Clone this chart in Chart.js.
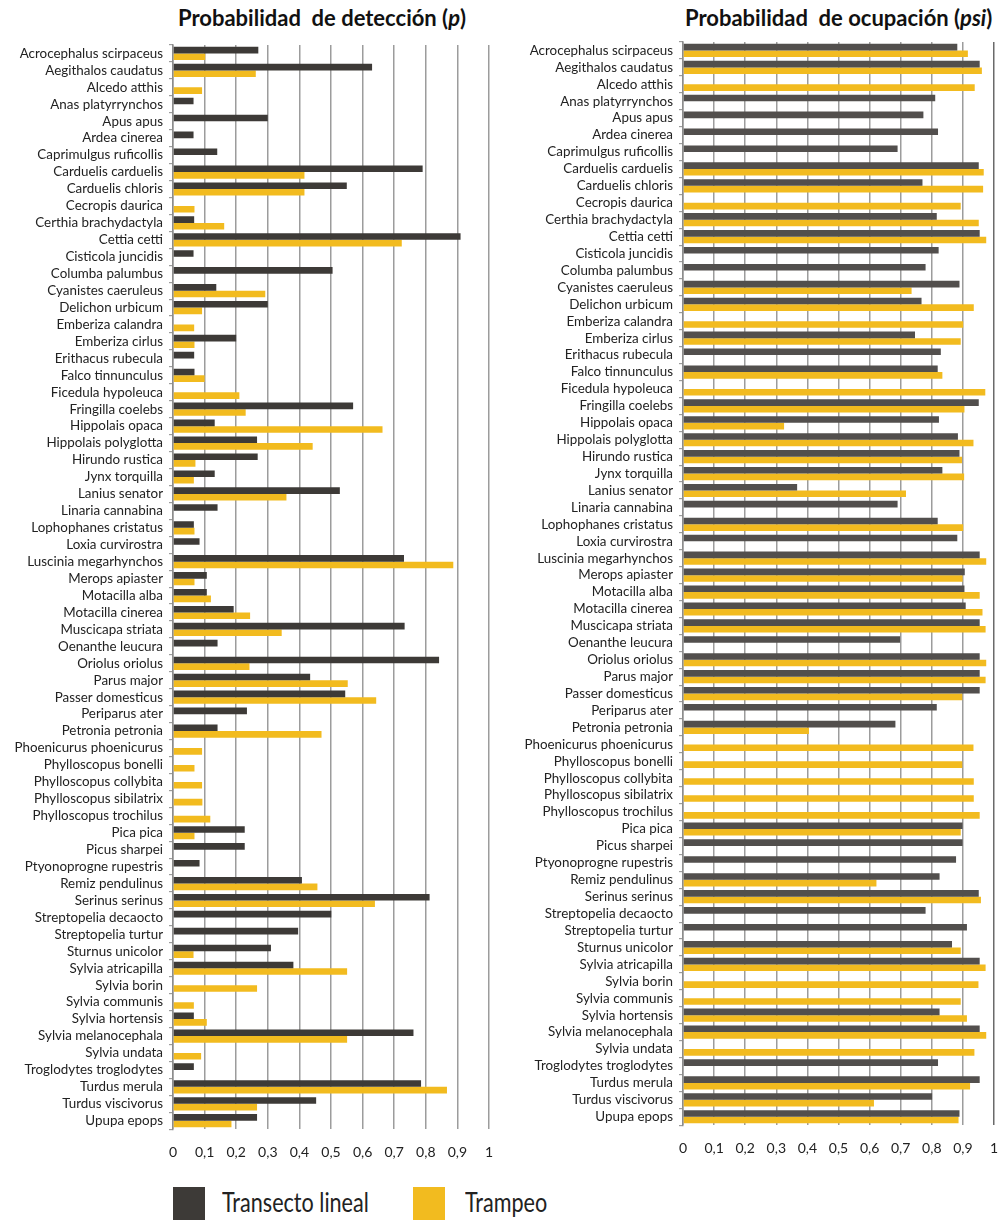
<!DOCTYPE html>
<html lang="es">
<head>
<meta charset="utf-8">
<title>Probabilidad de detección y ocupación</title>
<script src="https://cdn.jsdelivr.net/npm/chart.js@4/dist/chart.umd.min.js"></script>
<style>
  html, body { margin: 0; padding: 0; background: #fff; }
  body { width: 999px; height: 1220px; position: relative; overflow: hidden; font-family: Lato, "Open Sans", sans-serif; color: #111; }
  .box { position: absolute; }
  .title { position: absolute; top: 4px; font-weight: bold; font-size: 22px; white-space: pre; }
  .swatch { position: absolute; top: 1187px; width: 32px; height: 33px; }
  .legtext { position: absolute; top: 1186px; font-size: 26px; line-height: 32px; white-space: pre; transform: scaleX(0.83); transform-origin: left center; color: #222; }
</style>
</head>
<body>

<div class="title" style="left:178px;">Probabilidad  de detección (<i>p</i>)</div>
<div class="title" style="left:685px;">Probabilidad  de ocupación (<i>psi</i>)</div>

<div class="box" style="left:0; top:0; width:500px; height:1176px;"><canvas id="detChart"></canvas></div>
<div class="box" style="left:500px; top:0; width:499px; height:1172px;"><canvas id="ocuChart"></canvas></div>

<div class="swatch" style="left:173px; background:#3d3a37;"></div>
<div class="legtext" style="left:222px;">Transecto lineal</div>
<div class="swatch" style="left:413px; background:#f2bb1f;"></div>
<div class="legtext" style="left:465px;">Trampeo</div>

<script>
const species = [
  "Acrocephalus scirpaceus", "Aegithalos caudatus", "Alcedo atthis", "Anas platyrrynchos",
  "Apus apus", "Ardea cinerea", "Caprimulgus ruficollis", "Carduelis carduelis",
  "Carduelis chloris", "Cecropis daurica", "Certhia brachydactyla", "Cettia cetti",
  "Cisticola juncidis", "Columba palumbus", "Cyanistes caeruleus", "Delichon urbicum",
  "Emberiza calandra", "Emberiza cirlus", "Erithacus rubecula", "Falco tinnunculus",
  "Ficedula hypoleuca", "Fringilla coelebs", "Hippolais opaca", "Hippolais polyglotta",
  "Hirundo rustica", "Jynx torquilla", "Lanius senator", "Linaria cannabina",
  "Lophophanes cristatus", "Loxia curvirostra", "Luscinia megarhynchos", "Merops apiaster",
  "Motacilla alba", "Motacilla cinerea", "Muscicapa striata", "Oenanthe leucura",
  "Oriolus oriolus", "Parus major", "Passer domesticus", "Periparus ater",
  "Petronia petronia", "Phoenicurus phoenicurus", "Phylloscopus bonelli", "Phylloscopus collybita",
  "Phylloscopus sibilatrix", "Phylloscopus trochilus", "Pica pica", "Picus sharpei",
  "Ptyonoprogne rupestris", "Remiz pendulinus", "Serinus serinus", "Streptopelia decaocto",
  "Streptopelia turtur", "Sturnus unicolor", "Sylvia atricapilla", "Sylvia borin",
  "Sylvia communis", "Sylvia hortensis", "Sylvia melanocephala", "Sylvia undata",
  "Troglodytes troglodytes", "Turdus merula", "Turdus viscivorus", "Upupa epops"
];

// probabilidad de detección (p)
const detTransecto = [
  0.27, 0.63, null, 0.065, 0.30, 0.065, 0.14, 0.79,
  0.55, null, 0.067, 0.91, 0.065, 0.505, 0.137, 0.30,
  null, 0.20, 0.067, 0.068, null, 0.57, 0.132, 0.266,
  0.268, 0.132, 0.528, 0.141, 0.066, 0.084, 0.731, 0.107,
  0.107, 0.192, 0.733, 0.141, 0.842, 0.434, 0.545, 0.234,
  0.141, null, null, null, null, null, 0.227, 0.227,
  0.084, 0.408, 0.812, 0.501, 0.396, 0.31, 0.381, null,
  null, 0.066, 0.761, null, 0.066, 0.785, 0.453, 0.266
];
const detTrampeo = [
  0.102, 0.262, 0.092, null, null, null, null, 0.416,
  0.416, 0.068, 0.162, 0.724, null, null, 0.292, 0.092,
  0.067, 0.068, null, 0.10, 0.21, 0.23, 0.663, 0.442,
  0.071, 0.066, 0.359, null, 0.068, null, 0.887, 0.068,
  0.12, 0.244, 0.344, null, 0.242, 0.553, 0.643, null,
  0.47, 0.092, 0.068, 0.092, 0.093, 0.118, 0.068, null,
  null, 0.457, 0.639, null, null, 0.065, 0.551, 0.266,
  0.066, 0.107, 0.551, 0.089, null, 0.867, 0.266, 0.185
];

// probabilidad de ocupación (psi)
const ocuTransecto = [
  0.882, 0.954, null, 0.811, 0.773, 0.820, 0.690, 0.951,
  0.770, null, 0.816, 0.954, 0.822, 0.780, 0.889, 0.767,
  null, 0.746, 0.829, 0.819, null, 0.951, 0.823, 0.884,
  0.889, 0.834, 0.367, 0.690, 0.819, 0.882, 0.954, 0.906,
  0.905, 0.909, 0.954, 0.698, 0.954, 0.954, 0.954, 0.816,
  0.683, null, null, null, null, null, 0.899, 0.899,
  0.878, 0.825, 0.951, 0.780, 0.913, 0.865, 0.954, null,
  null, 0.825, 0.954, null, 0.820, 0.954, 0.801, 0.889
];
const ocuTrampeo = [
  0.916, 0.961, 0.938, null, null, null, null, 0.967,
  0.965, 0.893, 0.951, 0.975, null, null, 0.735, 0.935,
  0.901, 0.893, null, 0.834, 0.972, 0.905, 0.325, 0.934,
  0.897, 0.904, 0.717, null, 0.901, null, 0.975, 0.899,
  0.954, 0.963, 0.973, null, 0.975, 0.973, 0.898, null,
  0.405, 0.934, 0.898, 0.935, 0.935, 0.954, 0.893, null,
  null, 0.622, 0.958, null, null, 0.893, 0.973, 0.950,
  0.893, 0.913, 0.975, 0.937, null, 0.923, 0.614, 0.886
];

const xTickLabels = ["0", "0,1", "0,2", "0,3", "0,4", "0,5", "0,6", "0,7", "0,8", "0,9", "1"];

const YELLOW = "#f2bb1f";
const GRID = "#9c9c9c";

function makeChart(id, dark, yellow, darkColor, yWidth, pad, lastLine) {
    return new Chart(document.getElementById(id), {
        type: "bar",
        data: {
            labels: species,
            datasets: [{
                label: "Transecto lineal",
                data: dark,
                backgroundColor: darkColor,
                categoryPercentage: 0.78,
                barPercentage: 1.0
            }, {
                label: "Trampeo",
                data: yellow,
                backgroundColor: YELLOW,
                categoryPercentage: 0.78,
                barPercentage: 1.0
            }]
        },
        options: {
            indexAxis: "y",
            responsive: true,
            maintainAspectRatio: false,
            animation: false,
            layout: { padding: pad },
            plugins: {
                legend: { display: false },
                tooltip: { enabled: false }
            },
            scales: {
                x: {
                    min: 0,
                    max: 1,
                    // tick padding would otherwise widen the side margins
                    afterFit: s => { s.paddingLeft = 0; s.paddingRight = 4; },
                    ticks: {
                        stepSize: 0.1,
                        autoSkip: false,
                        maxRotation: 0,
                        padding: 15,
                        color: "#222",
                        font: { family: "Lato", size: 14 },
                        callback: (v, i) => xTickLabels[i]
                    },
                    grid: {
                        drawTicks: false,
                        lineWidth: 1.5,
                        color: ctx => (lastLine && ctx.index === 10) ? "#6a6a6a" : GRID
                    },
                    border: { display: false }
                },
                y: {
                    afterFit: s => { s.width = yWidth; },
                    ticks: {
                        autoSkip: false,
                        padding: 6,
                        color: "#222",
                        font: { family: "Lato", size: 13.4 }
                    },
                    grid: {
                        drawOnChartArea: false,
                        offset: true,
                        tickLength: 4,
                        color: GRID,
                        lineWidth: 1.2
                    },
                    border: { color: "#8c8c8c", width: 1.5 }
                }
            }
        }
    });
}

makeChart("detChart", detTransecto, detTrampeo, "#3d3a37", 173,
    { top: 45, right: 11, left: 0, bottom: 0 }, false);
makeChart("ocuChart", ocuTransecto, ocuTrampeo, "#524f4d", 183,
    { top: 42, right: 5, left: 0, bottom: 0 }, true);
</script>
</body>
</html>
